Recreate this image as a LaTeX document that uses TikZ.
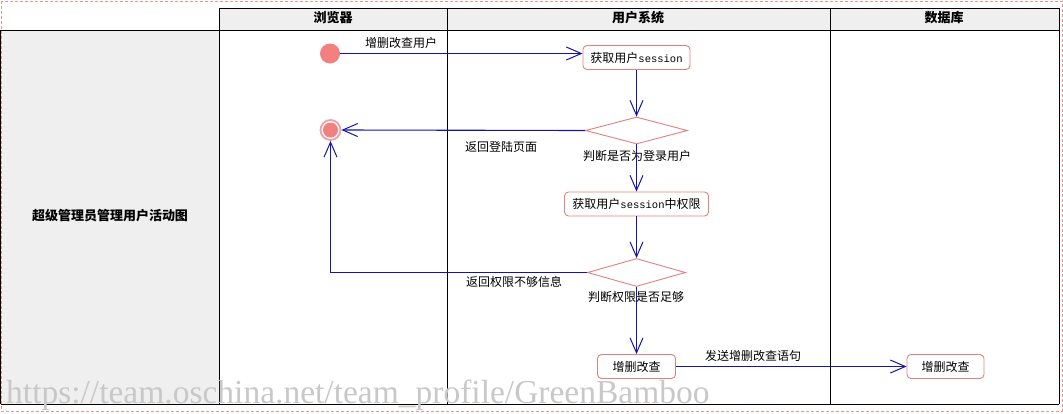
\documentclass[tikz,border=0pt]{standalone}
\usepackage{fontspec}
\setmainfont{Liberation Serif}
\newfontfamily\cjk{Noto Sans CJK SC}
\newfontfamily\monof{Liberation Mono}
\usetikzlibrary{shapes.geometric,arrows.meta}
\definecolor{lanegray}{RGB}{239,239,239}
\definecolor{nodepink}{RGB}{226,128,128}
\definecolor{initpink}{RGB}{242,128,128}
\definecolor{ringpink}{RGB}{242,160,160}
\definecolor{flowblue}{RGB}{20,20,170}
\definecolor{framepink}{RGB}{226,150,150}
\definecolor{wmgray}{RGB}{200,200,200}
\newcommand{\sess}[1]{{\monof\fontsize{10.5}{12}\selectfont #1}}
\tikzset{
  lane/.style={draw=black, line width=1pt},
  headtxt/.style={font=\cjk\bfseries\fontsize{13}{15}\selectfont},
  lbl/.style={font=\cjk\fontsize{12}{14}\selectfont, inner sep=0pt},
  actbox/.style={draw=nodepink, fill=white, rounded corners=4pt, line width=0.9pt,
                 minimum height=24pt, inner sep=0pt, font=\cjk\fontsize{12}{14}\selectfont},
  decide/.style={diamond, draw=nodepink, fill=white, line width=0.9pt, inner sep=0pt,
                 minimum width=102pt, minimum height=27pt},
  flow/.style={draw=flowblue, line width=1.1pt, -{Straight Barb[length=15pt,width=13pt,line width=1pt]}},
}
\begin{document}
\begin{tikzpicture}[x=1pt,y=-1pt]
\useasboundingbox (0,0) rectangle (1063,413);
% swimlane frame
\fill[lanegray] (219,8) rectangle (1059,30);
\fill[lanegray] (1,30) rectangle (219,404);
\draw[lane] (219,8) -- (1059,8);
\draw[lane] (0.5,30) -- (1059,30);
\draw[lane] (0.5,404) -- (1059,404);
\draw[lane] (0.5,30) -- (0.5,404);
\draw[lane] (219,8) -- (219,404);
\draw[lane] (447,8) -- (447,404);
\draw[lane] (830,8) -- (830,404);
\draw[lane] (1059,8) -- (1059,404);
\node[headtxt] (h1) at (333,18) {浏览器};
\node[headtxt] (h2) at (638,18) {用户系统};
\node[headtxt] (h3) at (944,18) {数据库};
\node[headtxt] (h0) at (110,216) {超级管理员管理用户活动图};
% nodes
\node[circle, fill=initpink, minimum size=20pt, inner sep=0pt] (init) at (330,53.5) {};
\node[circle, draw=ringpink, line width=1.8pt, fill=white, minimum size=20pt, inner sep=0pt] (fin) at (330.5,130) {};
\fill[initpink] (fin.center) circle (7.5pt);
\node[actbox, minimum width=107pt] (b1) at (636.5,57.5) {获取用户\sess{session}};
\node[decide] (d1) at (636.5,130.5) {};
\node[actbox, minimum width=144pt] (b2) at (636.5,204) {获取用户\sess{session}中权限};
\node[decide, minimum width=98pt, minimum height=28pt] (d2) at (636.5,272.5) {};
\node[actbox, minimum width=78pt] (b3) at (636.5,366.5) {增删改查};
\node[actbox, minimum width=77pt] (b4) at (945.5,366.5) {增删改查};
% labels
\node[lbl] (l0) at (401,43) {增删改查用户};
\node[lbl] (l1) at (501,147) {返回登陆页面};
\node[lbl] (l2) at (637,156) {判断是否为登录用户};
\node[lbl] (l3) at (514,282) {返回权限不够信息};
\node[lbl] (l4) at (636,297) {判断权限是否足够};
\node[lbl] (l5) at (753,356) {发送增删改查语句};
% connectors
\draw[flow] (init) -- (init -| b1.west);
\draw[flow] (b1.south) -- (d1.north);
\draw[flow] (d1.west) -- (fin.east);
\draw[flow] (d1.south) -- (b2.north);
\draw[flow] (b2.south) -- (d2.north);
\draw[flow] (d2.west) -| (fin.south);
\draw[flow] (d2.south) -- (b3.north);
\draw[flow] (b3.east) -- (b4.west);
% watermark
\node[anchor=base west, inner sep=0pt, text=wmgray, font=\fontsize{33.5}{36}\selectfont] (wm) at (6,403) {https://team.oschina.net/team\_profile/GreenBamboo};
% outer dashed frame
\draw[framepink, line width=1pt, dash pattern=on 3pt off 2pt] (1,1) rectangle (1062,411);
\end{tikzpicture}
\end{document}
